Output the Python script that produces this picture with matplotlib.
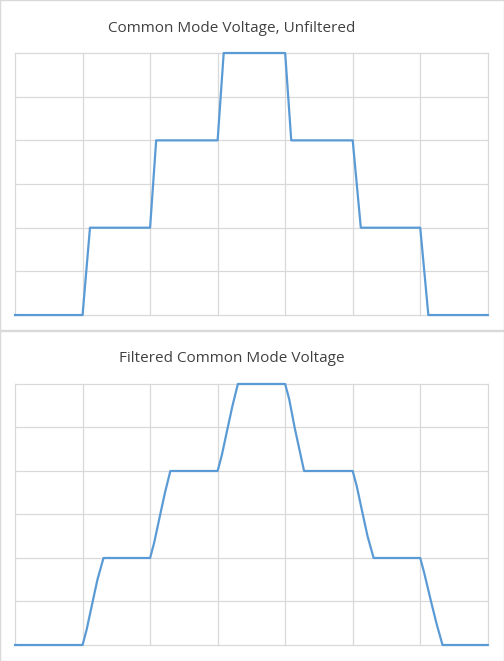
import matplotlib.pyplot as plt
from matplotlib.patches import Rectangle

raw_x = [0, 1, 1.11, 2, 2.09, 3, 3.09, 4, 4.09, 5, 5.12, 6, 6.12, 7]
raw_y = [0, 0, 2, 2, 4, 4, 6, 6, 4, 4, 2, 2, 0, 0]

filt_x = [0, 1, 1.06, 1.15, 1.22, 1.31, 2, 2.06, 2.15, 2.22, 2.3, 3, 3.06, 3.15, 3.22, 3.3,
          4, 4.06, 4.14, 4.21, 4.28, 5, 5.06, 5.15, 5.22, 5.31, 6, 6.06, 6.16, 6.24, 6.33, 7]
filt_y = [0, 0, 0.35, 1.0, 1.5, 2, 2, 2.35, 3, 3.5, 4, 4, 4.35, 5, 5.5, 6,
          6, 5.65, 5, 4.5, 4, 4, 3.65, 3, 2.5, 2, 2, 1.65, 1, 0.5, 0, 0]

titles = ['Common Mode Voltage, Unfiltered', 'Filtered Common Mode Voltage']

plt.rcParams['font.family'] = ['Open Sans', 'DejaVu Sans']
fig = plt.figure(figsize=(5.04, 6.61), dpi=100)

grid_c = '#d9d9d9'
fig.add_artist(Rectangle((0, 1 - 330 / 661), 1, 330 / 661, transform=fig.transFigure,
                         fill=False, edgecolor=grid_c, lw=1))
fig.add_artist(Rectangle((0, 0), 1, 330 / 661, transform=fig.transFigure,
                         fill=False, edgecolor=grid_c, lw=1))

boxes = [[0.0298, 0.5234, 0.938, 0.3964], [0.0298, 0.0242, 0.938, 0.3949]]
data = [(raw_x, raw_y), (filt_x, filt_y)]
title_y = [1 - 28 / 661, 1 - 358 / 661]

for box, (x, y), t, ty in zip(boxes, data, titles, title_y):
    ax = fig.add_axes(box)
    ax.plot(x, y, color='#5b9bd5', lw=1.6, zorder=3, clip_on=False)
    ax.set_xlim(0, 7)
    ax.set_ylim(0, 6)
    ax.set_xticks(range(8))
    ax.set_yticks(range(7))
    ax.grid(True, color=grid_c, lw=0.9)
    ax.tick_params(length=0, labelbottom=False, labelleft=False)
    for s in ax.spines.values():
        s.set_visible(False)
    for gl in ax.get_xgridlines() + ax.get_ygridlines():
        gl.set_clip_on(False)
    fig.text(0.46, ty, t, ha='center', va='center', fontsize=11, color='#404040')

fig.savefig('out.png', dpi=100)
